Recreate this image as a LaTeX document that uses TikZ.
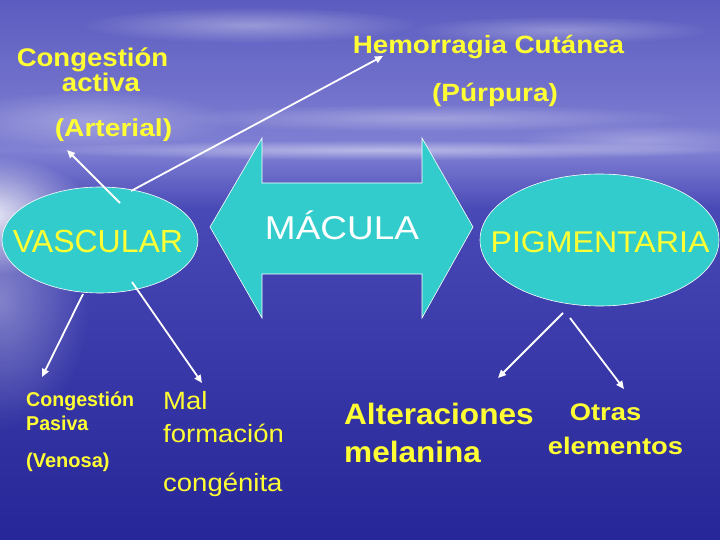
\documentclass[tikz,border=0pt]{standalone}
\usepackage{fontspec}
\setmainfont{Liberation Sans}
\usepackage{graphicx}
\usetikzlibrary{arrows.meta,shapes.geometric,fadings}
\tikzfading[name=glowfade, inner color=transparent!0, outer color=transparent!100]
\definecolor{ylw}{RGB}{255,255,51}
\definecolor{turq}{RGB}{51,204,204}
\definecolor{bgA}{RGB}{92,92,192}
\definecolor{bgB}{RGB}{128,128,212}
\definecolor{bgC}{RGB}{72,72,182}
\definecolor{bgD}{RGB}{38,38,152}
\newcommand\tb[3]{\scalebox{#2}[1]{\fontsize{#1}{#1}\selectfont\bfseries #3}}
\newcommand\trg[3]{\scalebox{#2}[1]{\fontsize{#1}{#1}\selectfont #3}}
\begin{document}
\begin{tikzpicture}[x=1pt,y=-1pt,
  ell/.style={ellipse, draw=white, line width=0.6pt, fill=turq, inner sep=0pt},
  txt/.style={inner sep=0pt, anchor=base, text=ylw},
  txtw/.style={inner sep=0pt, anchor=base west, text=ylw},
  arr/.style={draw=white, line width=1.8pt, -{Triangle[length=8pt,width=7pt]}},
  cloud/.style={white, path fading=glowfade}]
\useasboundingbox (0,0) rectangle (720,540);
% background
\shade[top color=bgA, bottom color=bgB] (0,0) rectangle (720,150.5);
\shade[top color=bgB, bottom color=bgC] (0,150) rectangle (720,210.5);
\shade[top color=bgC, bottom color=bgD] (0,210) rectangle (720,540);
\fill[cloud, opacity=0.35] (250,25) ellipse (170 and 18);
\fill[cloud, opacity=0.3] (560,30) ellipse (150 and 14);
\fill[cloud, opacity=0.3] (90,120) ellipse (140 and 30);
\fill[cloud, opacity=0.3] (430,118) ellipse (260 and 14);
\fill[cloud, opacity=0.25] (640,140) ellipse (120 and 16);
\fill[cloud, opacity=0.45] (380,150) ellipse (360 and 10);
\fill[cloud, opacity=0.9] (-15,215) ellipse (110 and 60);
\fill[cloud, opacity=0.35] (0,300) ellipse (90 and 130);
% shapes
\node[ell, minimum width=196pt, minimum height=106pt] (vasc) at (100,240) {};
\node[ell, minimum width=239pt, minimum height=132pt] (pigm) at (599.5,240) {};
\draw[fill=turq, draw=white, line width=0.6pt]
  (210,227) -- (262,138) -- (262,183) -- (422,183) -- (422,138) -- (473,227)
  -- (422,318) -- (422,274) -- (262,274) -- (262,318) -- cycle;
% texts in shapes
\node[txt] (tvasc) at (98,252) {\trg{32}{1.0}{VASCULAR}};
\node[txt, text=white] (tmac) at (342,240) {\trg{33}{1.12}{MÁCULA}};
\node[txt] (tpigm) at (600,252) {\trg{30}{1.07}{PIGMENTARIA}};
% top texts
\node[txt] (cact1) at (92.5,67) {\tb{25.5}{1.08}{Congestión}};
\node[txt] (cact2) at (101,92) {\tb{25.5}{1.08}{activa}};
\node[txt] (cart) at (113.5,137) {\tb{24.5}{1.15}{(Arterial)}};
\node[txt] (hem) at (488.5,54) {\tb{25}{1.11}{Hemorragia Cutánea}};
\node[txt] (purp) at (495,102) {\tb{25}{1.12}{(Púrpura)}};
% bottom texts
\node[txtw] (cpas1) at (26,406) {\tb{20}{0.98}{Congestión}};
\node[txtw] (cpas2) at (26,430) {\tb{20}{0.98}{Pasiva}};
\node[txtw] (ven) at (26,467) {\tb{20}{1.0}{(Venosa)}};
\node[txtw] (mal1) at (163,409) {\trg{25}{1.1}{Mal}};
\node[txtw] (mal2) at (163,442) {\trg{25}{1.1}{formación}};
\node[txtw] (mal3) at (163,491) {\trg{25}{1.1}{congénita}};
\node[txtw] (alt1) at (344,424) {\tb{29.5}{1.07}{Alteraciones}};
\node[txtw] (alt2) at (344,462) {\tb{29.5}{1.07}{melanina}};
\node[txt] (otr1) at (605.5,420) {\tb{24}{1.14}{Otras}};
\node[txt] (otr2) at (615.5,454) {\tb{24}{1.14}{elementos}};
% connectors
\coordinate (s1) at (120,203); \coordinate (e1) at (67,150);
\coordinate (s2) at (131,191); \coordinate (e2) at (383,56);
\coordinate (s3) at (83,294);  \coordinate (e3) at (42,377);
\coordinate (s4) at (132,282); \coordinate (e4) at (202,383);
\coordinate (s5) at (563,313); \coordinate (e5) at (498,378);
\coordinate (s6) at (570,318); \coordinate (e6) at (624,389);
\draw[arr] (s1) -- (e1);
\draw[arr] (s2) -- (e2);
\draw[arr] (s3) -- (e3);
\draw[arr] (s4) -- (e4);
\draw[arr] (s5) -- (e5);
\draw[arr] (s6) -- (e6);
\end{tikzpicture}
\end{document}
